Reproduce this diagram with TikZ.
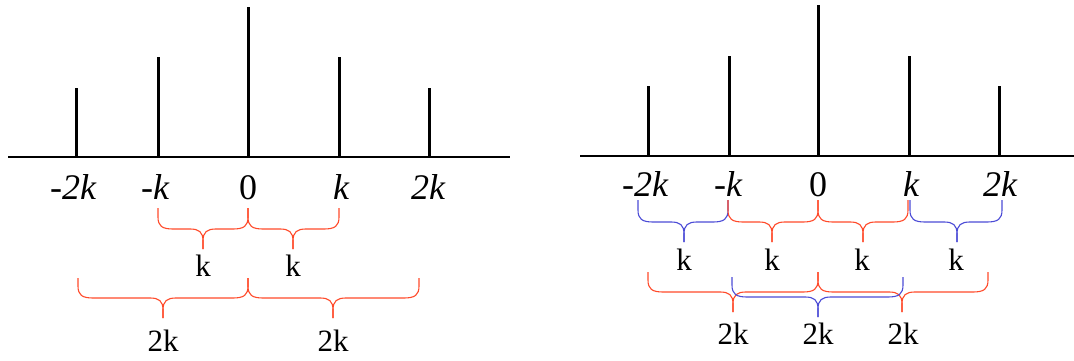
\documentclass[tikz,border=0pt]{standalone}
\usepackage{fontspec}
\setmainfont{Liberation Serif}
\definecolor{bred}{HTML}{FF4A2A}
\definecolor{bblue}{HTML}{4B4BD6}
\newcommand{\curlyb}[7]{% color, x1, x2, xm, ytop, yh, ytip
  \draw[bracestyle,#1] (#2,#5) -- (#2,{#6-12}) .. controls (#2,{#6-3}) and ({#2+4},#6) .. ({#2+15},#6)
     -- ({#4-13},#6) .. controls ({#4-4},#6) and (#4,{#6+3}) .. (#4,{#6+12}) -- (#4,#7);
  \draw[bracestyle,#1] (#3,#5) -- (#3,{#6-12}) .. controls (#3,{#6-3}) and ({#3-4},#6) .. ({#3-15},#6)
     -- ({#4+13},#6) .. controls ({#4+4},#6) and (#4,{#6+3}) .. (#4,{#6+12}) -- (#4,#7);
}
\begin{document}
\begin{tikzpicture}[x=1pt,y=-1pt,
  axisline/.style={line width=2.6pt,black},
  spike/.style={line width=3pt,black},
  bracestyle/.style={line width=1.1pt},
  ticklab/.style={font=\fontsize{36}{36}\selectfont\itshape,inner sep=0pt,anchor=base},
  zerolab/.style={font=\fontsize{36}{36}\selectfont,inner sep=0pt,anchor=base},
  spanlab/.style={font=\fontsize{31}{31}\selectfont,inner sep=0pt,anchor=base}]
\useasboundingbox (0,0) rectangle (1074,361);
% ---------- left panel ----------
\coordinate (La) at (8,157);
\coordinate (Lb) at (510,157);
\draw[axisline] (La) -- (Lb);
\foreach \n/\x/\t in {L1/76/88,L2/158/57,L3/248/7,L4/339/57,L5/429/88}{
  \coordinate (\n b) at (\x,157);
  \coordinate (\n t) at (\x,\t);
  \draw[spike] (\n b) -- (\n t);
}
\node[ticklab] (Ll1) at (73,199) {-2k};
\node[ticklab] (Ll2) at (155,199) {-k};
\node[zerolab] (Ll3) at (248,199) {0};
\node[ticklab] (Ll4) at (341,199) {k};
\node[ticklab] (Ll5) at (428,199) {2k};
\curlyb{bred}{158}{248}{203}{208}{229}{249}
\curlyb{bred}{248}{339}{293}{208}{229}{249}
\node[spanlab] (Lk1) at (203,276) {k};
\node[spanlab] (Lk2) at (293,276) {k};
\curlyb{bred}{78}{248}{163}{278}{298}{318}
\curlyb{bred}{248}{419}{333}{278}{298}{318}
\node[spanlab] (L2k1) at (163,351) {2k};
\node[spanlab] (L2k2) at (333,351) {2k};
% ---------- right panel ----------
\coordinate (Ra) at (580,156);
\coordinate (Rb) at (1074,156);
\draw[axisline] (Ra) -- (Rb);
\foreach \n/\x/\t in {R1/648/86,R2/729/56,R3/818/5,R4/909/56,R5/999/86}{
  \coordinate (\n b) at (\x,156);
  \coordinate (\n t) at (\x,\t);
  \draw[spike] (\n b) -- (\n t);
}
\node[ticklab] (Rl1) at (645,196) {-2k};
\node[ticklab] (Rl2) at (728,196) {-k};
\node[zerolab] (Rl3) at (818,196) {0};
\node[ticklab] (Rl4) at (911,196) {k};
\node[ticklab] (Rl5) at (1000,196) {2k};
\curlyb{bblue}{638}{728}{684}{200}{222}{242}
\curlyb{bred}{728}{818}{772}{200}{222}{242}
\curlyb{bred}{818}{908}{863}{200}{222}{242}
\curlyb{bblue}{910}{1002}{957}{200}{222}{242}
\node[spanlab] (Rk1) at (684,270) {k};
\node[spanlab] (Rk2) at (772,270) {k};
\node[spanlab] (Rk3) at (862,270) {k};
\node[spanlab] (Rk4) at (956,270) {k};
\curlyb{bred}{648}{818}{733}{272}{292}{312}
\curlyb{bred}{818}{988}{902}{272}{292}{312}
\curlyb{bblue}{732}{903}{818}{277}{297}{317}
\node[spanlab] (R2k1) at (733,344) {2k};
\node[spanlab] (R2k2) at (818,344) {2k};
\node[spanlab] (R2k3) at (903,344) {2k};
\end{tikzpicture}
\end{document}
